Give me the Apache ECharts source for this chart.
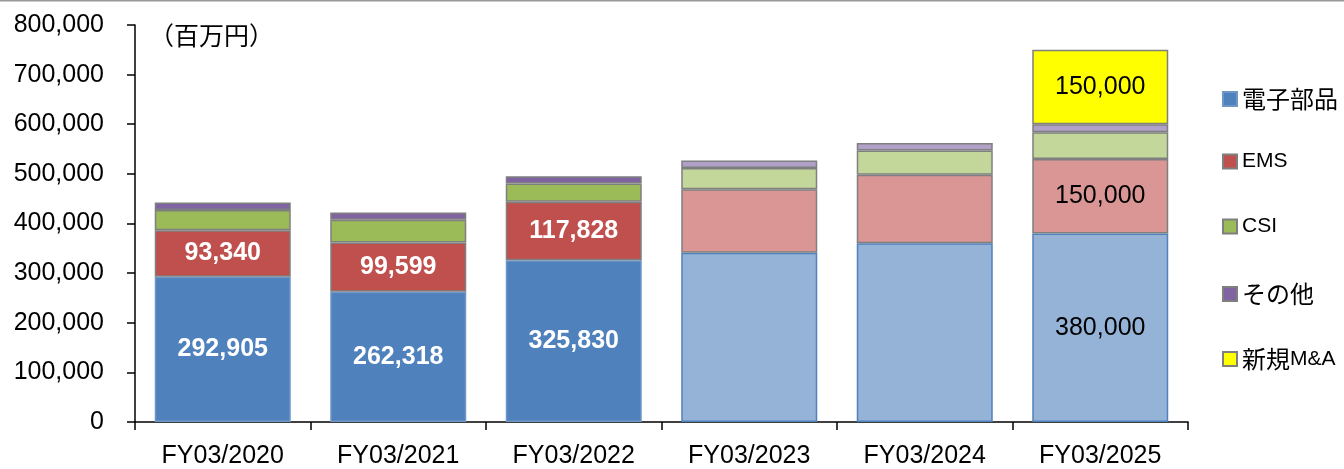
<!DOCTYPE html>
<html>
<head>
<meta charset="utf-8">
<script src="https://cdn.jsdelivr.net/npm/echarts@6/dist/echarts.min.js"></script>
<style>
html,body{margin:0;padding:0;background:#fff;overflow:hidden;}
#chart{width:1344px;height:469px;}
</style>
</head>
<body>
<div id="chart"></div>
<script>
// ---- data ----
const categories = ['FY03/2020', 'FY03/2021', 'FY03/2022', 'FY03/2023', 'FY03/2024', 'FY03/2025'];
const forecast = [false, false, false, true, true, true];
const seriesNames = ['電子部品', 'EMS', 'CSI', 'その他', '新規M&A'];
const electronics = [292905, 262318, 325830, 341000, 360000, 380000];
const ems = [93340, 99599, 117828, 128000, 138000, 150000];
const csi = [41000, 45500, 37000, 43000, 49000, 54000];
const others = [15000, 15000, 14500, 15000, 15000, 16000];
const newMA = [null, null, null, null, null, 150000];
const electronicsLabeled = [true, true, true, false, false, true];
const emsLabeled = [true, true, true, false, false, true];
const csiLabeled = [false, false, false, false, false, false];
const othersLabeled = [false, false, false, false, false, false];
const newMALabeled = [false, false, false, false, false, true];
const yTicks = [0, 100000, 200000, 300000, 400000, 500000, 600000, 700000, 800000];
const unitText = '（百万円）';

// ---- styles ----
const FONT = '"Liberation Sans", Arial, "Noto Sans CJK JP", sans-serif';
const CJK = '"Noto Sans CJK JP", sans-serif';
const GREY = '#7F7F7F';
const styles = [
  { actual: '#4F81BD', fc: '#95B3D7', border: '#4F81BD', borderActual: '#6F96C8' },
  { actual: '#C0504D', fc: '#DA9694', border: GREY, borderActual: GREY },
  { actual: '#9BBB59', fc: '#C4D79B', border: GREY, borderActual: GREY },
  { actual: '#8064A2', fc: '#B1A0C7', border: GREY, borderActual: GREY },
  { actual: '#FFFF00', fc: '#FFFF00', border: GREY, borderActual: GREY }
];
const legendCenters = [100, 164, 229, 295, 360];
const fmt = v => Number(v).toLocaleString('en-US');

function buildSeries(name, values, labeled, st) {
  return {
    name: name,
    type: 'bar',
    stack: 'total',
    barCategoryGap: '22.5%',
    itemStyle: { color: st.actual, borderColor: st.borderActual, borderWidth: 1.5 },
    data: values.map((v, i) => {
      const fc = forecast[i];
      return {
        value: v,
        itemStyle: {
          color: fc ? st.fc : st.actual,
          borderColor: fc ? st.border : st.borderActual,
          borderWidth: 1.5
        },
        label: {
          show: labeled[i] && v != null,
          position: 'inside',
          formatter: p => fmt(p.value),
          fontFamily: FONT,
          fontSize: 25,
          fontWeight: fc ? 'normal' : 'bold',
          color: fc ? '#000' : '#fff'
        }
      };
    })
  };
}

function legendRich(name) {
  const runs = name.match(/[\x00-\x7F]+|[^\x00-\x7F]+/g) || [name];
  return runs.map(r => (/^[\x00-\x7F]+$/.test(r) ? '{a|' + r + '}' : '{c|' + r + '}')).join('');
}

const legends = seriesNames.map((name, i) => ({
  orient: 'vertical',
  left: 1222,
  top: legendCenters[i] - 13,
  itemWidth: 14,
  itemHeight: 14,
  icon: 'rect',
  selectedMode: false,
  data: [name],
  formatter: legendRich,
  padding: 0,
  textStyle: {
    color: '#000',
    padding: [0, 0, 0, 0],
    rich: {
      a: { fontFamily: FONT, fontSize: 21, lineHeight: 26, color: '#000' },
      c: { fontFamily: CJK, fontSize: 24, lineHeight: 26, color: '#000' }
    }
  }
}));

const chart = echarts.init(document.getElementById('chart'), null, { renderer: 'canvas' });
const option = {
  backgroundColor: '#fff',
  animation: false,
  textStyle: { fontFamily: FONT },
  grid: { left: 135, right: 156, top: 25, bottom: 43, containLabel: false },
  legend: legends,
  xAxis: {
    type: 'category',
    data: categories,
    axisLine: { lineStyle: { color: '#000', width: 1.5 } },
    axisTick: { show: true, length: 8, lineStyle: { color: '#000', width: 1.5 } },
    axisLabel: { fontFamily: FONT, fontSize: 25, color: '#000', margin: 22 }
  },
  yAxis: {
    type: 'value',
    min: yTicks[0],
    max: yTicks[yTicks.length - 1],
    interval: yTicks[1] - yTicks[0],
    axisLine: { show: true, lineStyle: { color: '#000', width: 1.5 } },
    axisTick: { show: true, length: 8, lineStyle: { color: '#000', width: 1.5 } },
    splitLine: { show: false },
    axisLabel: { fontFamily: FONT, fontSize: 25, color: '#000', margin: 31, padding: [4, 0, 0, 0], formatter: v => fmt(v) }
  },
  graphic: [
    { type: 'line', shape: { x1: 0, y1: 0.75, x2: 1344, y2: 0.75 }, style: { stroke: '#999', lineWidth: 1.5 } },
    { type: 'text', x: 149, y: 35, style: { text: unitText, font: '25px "Noto Sans CJK JP", sans-serif', fill: '#000', verticalAlign: 'middle' } }
  ],
  series: [
    buildSeries(seriesNames[0], electronics, electronicsLabeled, styles[0]),
    buildSeries(seriesNames[1], ems, emsLabeled, styles[1]),
    buildSeries(seriesNames[2], csi, csiLabeled, styles[2]),
    buildSeries(seriesNames[3], others, othersLabeled, styles[3]),
    buildSeries(seriesNames[4], newMA, newMALabeled, styles[4])
  ]
};
chart.setOption(option);
</script>
</body>
</html>
